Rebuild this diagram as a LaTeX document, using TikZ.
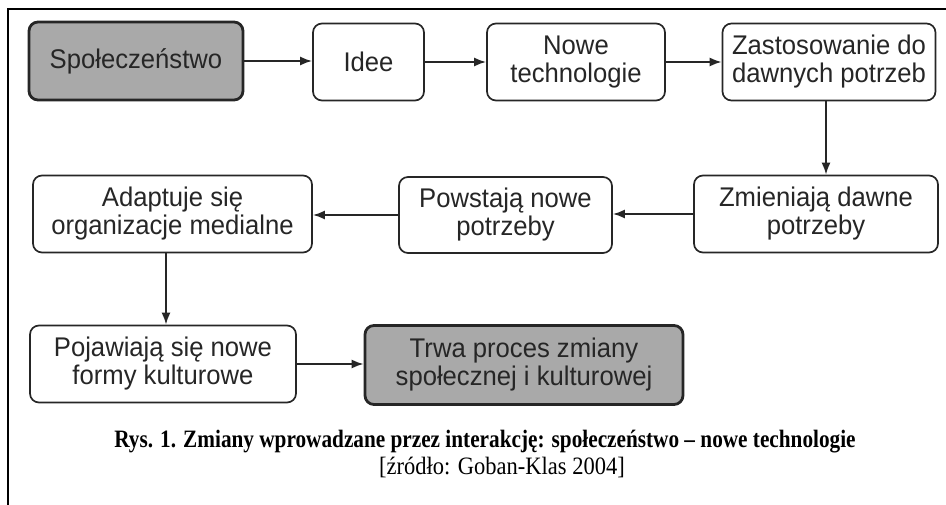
\documentclass[tikz,border=0pt]{standalone}
\usepackage{fontspec}
\setmainfont{Liberation Serif}
\newfontfamily\boxfont[FakeStretch=0.95]{Liberation Sans}
\newfontfamily\capfont[FakeStretch=0.85]{Liberation Serif}
\newfontfamily\srcfont[FakeStretch=0.9]{Liberation Serif}
\usetikzlibrary{arrows.meta}
\definecolor{boxgray}{HTML}{A9A9A9}
\definecolor{inkgray}{HTML}{262626}
\begin{document}
\begin{tikzpicture}[x=1pt,y=-1pt,
  flowbox/.style={draw=inkgray, line width=1.7pt, rounded corners=9pt, fill=white,
    text=inkgray, align=center, inner sep=0pt,
    font=\boxfont\fontsize{27}{28}\selectfont},
  keybox/.style={flowbox, fill=boxgray, line width=2.8pt},
  flow/.style={draw=inkgray, line width=1.8pt, -{Latex[length=12pt,width=9pt]}}]
  \useasboundingbox (0,0) rectangle (946,505);
  % frame
  \draw[line width=2.4pt] (8,505) -- (8,9) -- (947,9);

  % first row
  \node[keybox, minimum width=214pt, minimum height=78pt] (spol) at (136,61) {Społeczeństwo};
  \node[flowbox, minimum width=111pt, minimum height=77pt] (idee) at (368.5,62) {Idee};
  \node[flowbox, minimum width=178pt, minimum height=77pt] (nowe) at (576,62) {Nowe\\technologie};
  \node[flowbox, minimum width=213pt, minimum height=77pt] (zast) at (829,62) {Zastosowanie do\\dawnych potrzeb};

  % second row
  \node[flowbox, minimum width=244pt, minimum height=77pt] (zmien) at (816,214) {Zmieniają dawne\\potrzeby};
  \node[flowbox, minimum width=213pt, minimum height=76pt] (powst) at (505.5,215) {Powstają nowe\\potrzeby};
  \node[flowbox, minimum width=279pt, minimum height=77pt] (adapt) at (172.5,214) {Adaptuje się\\organizacje medialne};

  % third row
  \node[flowbox, minimum width=266pt, minimum height=77pt] (pojaw) at (163,364) {Pojawiają się nowe\\formy kulturowe};
  \node[keybox, minimum width=318pt, minimum height=79pt] (trwa) at (524,365) {Trwa proces zmiany\\społecznej i kulturowej};

  % connectors
  \draw[flow] (spol.east) -- (idee.west |- spol.east);
  \draw[flow] (idee.east) -- (nowe.west |- idee.east);
  \draw[flow] (nowe.east) -- (zast.west |- nowe.east);
  \draw[flow] ([xshift=-3pt]zast.south) -- ([xshift=-3pt]zast.south |- zmien.north);
  \draw[flow] (zmien.west) -- (powst.east |- zmien.west);
  \draw[flow] (powst.west) -- (adapt.east |- powst.west);
  \draw[flow] ([xshift=3pt]pojaw.north |- adapt.south) -- ([xshift=3pt]pojaw.north);
  \draw[flow] (pojaw.east) -- (trwa.west |- pojaw.east);

  % caption
  \node[anchor=base, inner sep=0pt, font=\capfont\bfseries\fontsize{25}{27}\selectfont] (cap) at (485,447)
    {Rys. 1. Zmiany wprowadzane przez interakcję: społeczeństwo – nowe technologie};
  \node[anchor=base, inner sep=0pt, font=\srcfont\fontsize{25}{27}\selectfont] (src) at (502,474)
    {[źródło: Goban-Klas 2004]};
\end{tikzpicture}
\end{document}
